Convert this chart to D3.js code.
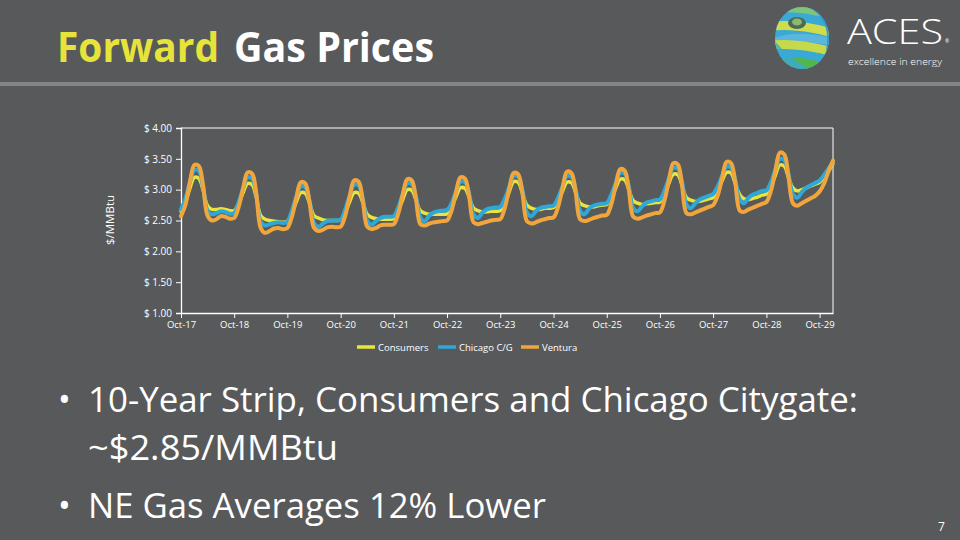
<!DOCTYPE html>
<html><head><meta charset="utf-8">
<script src="https://cdn.jsdelivr.net/npm/d3@7"></script>
<style>
html,body{margin:0;padding:0;background:#58595b;}
svg{display:block;}
text{font-family:"Open Sans","Noto Sans",sans-serif;}
</style></head>
<body>
<svg id="c" width="960" height="540"></svg>
<script>
// ---------- DATA ----------
const startMonth = new Date(2017, 9, 1);   // Oct-17
const tickLabels = ["Oct-17","Oct-18","Oct-19","Oct-20","Oct-21","Oct-22","Oct-23","Oct-24","Oct-25","Oct-26","Oct-27","Oct-28","Oct-29"];
const yTicks = [1.00, 1.50, 2.00, 2.50, 3.00, 3.50, 4.00];
const seriesNames = ["Consumers", "Chicago C/G", "Ventura"];
const consumers = [
 2.65,2.80,3.02,3.20,3.18,3.00,2.74,2.68,2.68,2.69,2.68,2.66,
 2.66,2.78,2.95,3.10,3.08,2.88,2.58,2.52,2.50,2.49,2.48,2.47,
 2.49,2.62,2.80,2.95,2.94,2.78,2.58,2.54,2.51,2.50,2.50,2.50,
 2.51,2.63,2.80,2.95,2.94,2.80,2.60,2.55,2.53,2.52,2.52,2.52,
 2.53,2.66,2.84,3.00,2.99,2.84,2.66,2.62,2.60,2.60,2.60,2.60,
 2.61,2.72,2.88,3.03,3.02,2.88,2.70,2.66,2.64,2.64,2.65,2.65,
 2.66,2.78,2.96,3.13,3.12,2.95,2.75,2.70,2.68,2.68,2.70,2.70,
 2.71,2.81,2.97,3.12,3.11,2.96,2.78,2.74,2.72,2.72,2.74,2.75,
 2.76,2.86,3.02,3.17,3.16,3.01,2.82,2.78,2.76,2.77,2.78,2.79,
 2.80,2.92,3.10,3.25,3.24,3.08,2.87,2.83,2.81,2.81,2.83,2.85,
 2.87,2.98,3.14,3.28,3.27,3.10,2.92,2.85,2.84,2.86,2.88,2.91,
 2.93,3.05,3.23,3.40,3.38,3.20,3.03,2.98,3.00,3.03,3.06,3.09,
 3.12,3.20,3.30,3.42
];
const chicago = [
 2.68,2.86,3.12,3.32,3.30,3.05,2.66,2.60,2.62,2.65,2.64,2.61,
 2.62,2.80,3.02,3.20,3.18,2.94,2.48,2.42,2.44,2.46,2.47,2.46,
 2.48,2.66,2.88,3.05,3.04,2.82,2.46,2.40,2.45,2.49,2.50,2.50,
 2.51,2.68,2.90,3.08,3.07,2.86,2.50,2.43,2.49,2.54,2.56,2.56,
 2.57,2.72,2.93,3.10,3.09,2.90,2.55,2.49,2.58,2.63,2.65,2.66,
 2.67,2.78,2.97,3.13,3.12,2.94,2.60,2.54,2.63,2.68,2.70,2.71,
 2.72,2.85,3.04,3.22,3.21,3.00,2.63,2.57,2.65,2.70,2.72,2.73,
 2.74,2.87,3.05,3.22,3.21,3.02,2.66,2.60,2.69,2.74,2.76,2.77,
 2.78,2.92,3.10,3.27,3.26,3.06,2.70,2.65,2.73,2.79,2.81,2.83,
 2.84,2.98,3.18,3.35,3.34,3.14,2.76,2.70,2.78,2.84,2.87,2.90,
 2.93,3.05,3.22,3.37,3.36,3.16,2.84,2.78,2.87,2.92,2.95,2.98,
 2.99,3.12,3.32,3.50,3.48,3.26,2.93,2.87,2.96,3.03,3.07,3.11,
 3.15,3.24,3.34,3.45
];
const ventura = [
 2.57,2.76,3.12,3.40,3.38,3.08,2.58,2.50,2.52,2.57,2.56,2.53,
 2.54,2.72,3.02,3.28,3.26,2.95,2.38,2.30,2.33,2.37,2.38,2.36,
 2.38,2.56,2.86,3.12,3.10,2.80,2.38,2.33,2.35,2.39,2.40,2.39,
 2.40,2.58,2.88,3.15,3.13,2.83,2.40,2.36,2.38,2.42,2.43,2.43,
 2.44,2.62,2.92,3.17,3.15,2.86,2.44,2.42,2.45,2.47,2.48,2.49,
 2.50,2.66,2.95,3.20,3.18,2.90,2.47,2.44,2.46,2.48,2.50,2.51,
 2.52,2.70,3.00,3.27,3.25,2.95,2.49,2.45,2.47,2.50,2.52,2.54,
 2.55,2.72,3.02,3.29,3.27,2.97,2.52,2.49,2.51,2.54,2.56,2.58,
 2.59,2.76,3.06,3.33,3.31,3.01,2.56,2.53,2.55,2.58,2.60,2.62,
 2.63,2.82,3.14,3.43,3.41,3.08,2.62,2.60,2.63,2.66,2.69,2.72,
 2.75,2.90,3.18,3.45,3.43,3.12,2.66,2.64,2.68,2.71,2.74,2.77,
 2.80,2.98,3.30,3.60,3.57,3.22,2.78,2.74,2.78,2.82,2.86,2.90,
 2.97,3.10,3.30,3.47
];
const seriesColors = ["#e8e53c", "#2ea8d9", "#f1a63d"];
const bullets = ["10-Year Strip, Consumers and Chicago Citygate:", "~$2.85/MMBtu", "NE Gas Averages 12% Lower"];

// ---------- DRAW ----------
const svg = d3.select("#c");
svg.append("rect").attr("width",960).attr("height",540).attr("fill","#58595b");

// title
svg.append("text").attr("x",57).attr("y",62).attr("font-size",41).attr("font-weight",700)
  .attr("fill","#e6e33a").attr("textLength",162).attr("lengthAdjust","spacingAndGlyphs").text("Forward");
svg.append("text").attr("x",234).attr("y",62).attr("font-size",41).attr("font-weight",700)
  .attr("fill","#ffffff").attr("textLength",200).attr("lengthAdjust","spacingAndGlyphs").text("Gas Prices");
svg.append("rect").attr("x",0).attr("y",82).attr("width",960).attr("height",4).attr("fill","#858587");

// logo
const logo = svg.append("g");
const defs = svg.append("defs");
defs.append("clipPath").attr("id","globe").append("ellipse").attr("cx",802).attr("cy",38).attr("rx",27).attr("ry",31);
const gl = logo.append("g").attr("clip-path","url(#globe)");
gl.append("rect").attr("x",770).attr("y",5).attr("width",65).attr("height",70).attr("fill","#3aa9d6");
const bands = [
  {y:8,h:8,c:"#7cc57a"},{y:17,h:7,c:"#3aa9d6"},{y:25,h:9,c:"#cfdc4c"},{y:35,h:8,c:"#5bb6de"},
  {y:44,h:9,c:"#c5d94a"},{y:53,h:8,c:"#3aa9d6"},{y:61,h:10,c:"#4fb74d"}
];
bands.forEach((b,i)=>{
  gl.append("path").attr("d",`M770,${b.y+(i%2?5:-3)} Q795,${b.y-7} 835,${b.y+4} L835,${b.y+b.h+4} Q795,${b.y+b.h-7} 770,${b.y+b.h+(i%2?5:-3)} Z`).attr("fill",b.c);
});
gl.append("path").attr("d","M806,6 Q832,18 826,50 L840,50 L840,4 Z").attr("fill","#2f9bd0");
gl.append("path").attr("d","M774,40 Q790,60 812,70 L770,75 Z").attr("fill","#3aa9d6").attr("opacity",0.8);
gl.append("ellipse").attr("cx",797).attr("cy",23).attr("rx",9).attr("ry",6).attr("fill","#4a6a5a");
gl.append("ellipse").attr("cx",797).attr("cy",22).attr("rx",5).attr("ry",3.5).attr("fill","#8fb86a");
logo.append("text").attr("x",847).attr("y",44).attr("font-size",34).attr("font-weight",300)
  .attr("font-family","Lato, 'Open Sans', sans-serif").attr("fill","#ffffff")
  .attr("textLength",96).attr("lengthAdjust","spacingAndGlyphs").text("ACES");
logo.append("text").attr("x",945).attr("y",43).attr("font-size",5).attr("fill","#ffffff").text("®");
logo.append("text").attr("x",848).attr("y",65).attr("font-size",9.5).attr("font-weight",300)
  .attr("font-family","Lato, 'Open Sans', sans-serif").attr("fill","#ffffff")
  .attr("textLength",94).attr("lengthAdjust","spacingAndGlyphs").text("excellence in energy");

// chart
const L = 181, R = 833, T = 128, B = 313;
const months = d3.range(consumers.length).map(i => d3.timeMonth.offset(startMonth, i));
const x = d3.scaleTime().domain([months[0], months[months.length-1]]).range([L, R]);
const y = d3.scaleLinear().domain([1, 4]).range([B, T]);

// plot border (top & right)
svg.append("path").attr("d",`M${L},${T}H${R}V${B}`).attr("fill","none").attr("stroke","#ffffff").attr("stroke-width",1);

const yAxis = svg.append("g").attr("transform",`translate(${L},0)`)
  .call(d3.axisLeft(y).tickValues(yTicks).tickSize(5).tickPadding(4).tickFormat(d => "$ " + d.toFixed(2)));
yAxis.select(".domain").attr("stroke","#fff").attr("stroke-width",1.3);
yAxis.selectAll(".tick line").attr("stroke","#fff");
yAxis.selectAll(".tick text").attr("fill","#fff").attr("font-size",10).attr("font-family","'Open Sans',sans-serif");

const xTickDates = tickLabels.map((t,i) => d3.timeMonth.offset(startMonth, 12*i));
const xAxis = svg.append("g").attr("transform",`translate(0,${B})`)
  .call(d3.axisBottom(x).tickValues(xTickDates).tickSize(5).tickSizeOuter(0).tickPadding(3)
    .tickFormat((d,i) => tickLabels[i]));
xAxis.select(".domain").attr("stroke","#fff").attr("stroke-width",1.3);
xAxis.selectAll(".tick line").attr("stroke","#fff");
xAxis.selectAll(".tick text").attr("fill","#fff").attr("font-size",9.5).attr("font-family","'Open Sans',sans-serif");

const line = d3.line().x((d,i) => x(months[i])).y(d => y(d)).curve(d3.curveCatmullRom.alpha(0.5));
const seriesData = [consumers, chicago, ventura];
const widths = [3.5, 4, 4];
seriesData.forEach((s, k) => {
  svg.append("path").datum(s).attr("d", line).attr("fill","none")
    .attr("stroke", seriesColors[k]).attr("stroke-width", widths[k])
    .attr("stroke-linejoin","round").attr("stroke-linecap","round");
});

// y-axis title
svg.append("text").attr("transform","translate(114,220) rotate(-90)").attr("text-anchor","middle")
  .attr("font-size",11.5).attr("fill","#fff").text("$/MMBtu");

// legend
const legX = [357, 438, 521];
seriesNames.forEach((n,k) => {
  svg.append("line").attr("x1",legX[k]).attr("x2",legX[k]+18).attr("y1",347).attr("y2",347)
    .attr("stroke",seriesColors[k]).attr("stroke-width",3.5);
  svg.append("text").attr("x",legX[k]+21).attr("y",351).attr("font-size",9.5).attr("fill","#fff").text(n);
});

// bullets
const bY = [412, 460, 518];
const bLen = [770, 250, 458];
[0,2].forEach(i => {
  svg.append("text").attr("x",58).attr("y",bY[i]).attr("font-size",34).attr("fill","#fff").text("•");
});
bullets.forEach((b,i) => {
  svg.append("text").attr("x",88).attr("y",bY[i]).attr("font-size",34).attr("fill","#fff")
    .attr("textLength",bLen[i]).attr("lengthAdjust","spacingAndGlyphs").text(b);
});
svg.append("text").attr("x",938).attr("y",531).attr("font-size",12).attr("fill","#fff").text("7");
</script>
</body></html>
